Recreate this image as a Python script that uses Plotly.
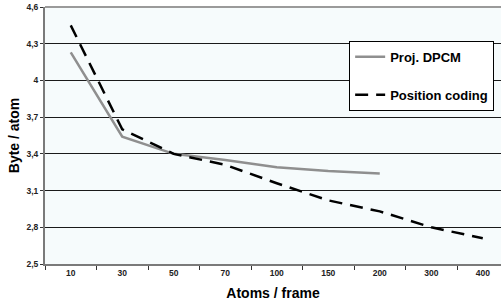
import plotly.graph_objects as go

categories = ["10", "30", "50", "70", "100", "150", "200", "300", "400"]
proj_dpcm = [4.23, 3.54, 3.40, 3.35, 3.29, 3.26, 3.24, None, None]
position_coding = [4.45, 3.60, 3.40, 3.31, 3.16, 3.02, 2.93, 2.80, 2.71]
y_ticks = [2.5, 2.8, 3.1, 3.4, 3.7, 4.0, 4.3, 4.6]
y_tick_labels = ["2,5", "2,8", "3,1", "3,4", "3,7", "4", "4,3", "4,6"]

FONT = "Liberation Sans, Arial, sans-serif"

fig = go.Figure()
fig.add_trace(go.Scatter(
    x=categories, y=proj_dpcm, mode="lines", name="<b>Proj. DPCM</b>",
    line=dict(color="#8f8f8f", width=2.5), legendgroup="a"))
fig.add_trace(go.Scatter(
    x=categories, y=position_coding, mode="lines", name="<b>Position coding</b>",
    line=dict(color="#000000", width=2.5, dash="13px,8px"), legendgroup="b"))

fig.update_layout(
    width=501, height=303,
    margin=dict(l=45, r=0, t=7, b=39),
    paper_bgcolor="white",
    plot_bgcolor="#f6fbfc",
    font=dict(family=FONT, color="#000"),
    showlegend=True,
    legend=dict(
        x=0.667, y=0.868, xanchor="left", yanchor="top",
        bgcolor="white", bordercolor="#000", borderwidth=1,
        font=dict(size=13, family=FONT, color="#000"),
        tracegroupgap=18, itemwidth=30,
    ),
    xaxis=dict(
        type="category", range=[-0.5, 8.354], automargin=False,
        tickvals=categories, ticktext=["<b>%s</b>" % c for c in categories],
        showgrid=False, showline=True, linecolor="#7a7a7a", linewidth=2,
        ticks="outside", tickson="boundaries", ticklen=4, tickcolor="#333",
        tickfont=dict(size=8.5, family=FONT, color="#222"),
        title=dict(text="<b>Atoms / frame</b>", font=dict(size=14, family=FONT), standoff=11),
    ),
    yaxis=dict(
        range=[2.5, 4.6], tickvals=y_ticks, automargin=False,
        ticktext=["<b>%s</b>" % t for t in y_tick_labels],
        showgrid=True, gridcolor="#1a1a1a", gridwidth=1,
        showline=True, linecolor="#7a7a7a", linewidth=2,
        ticks="outside", ticklen=3, tickcolor="#333",
        tickfont=dict(size=8.5, family=FONT, color="#222"),
        title=dict(text="<b>Byte / atom</b>", font=dict(size=14, family=FONT), standoff=4),
        zeroline=False,
    ),
)
fig.add_shape(type="line", xref="paper", yref="y domain", x0=0, x1=1, y0=1, y1=1,
              line=dict(color="#9a9a9a", width=2))

fig.write_html("out.html", config={"displayModeBar": False},
               post_script="document.body.style.margin='0';")
